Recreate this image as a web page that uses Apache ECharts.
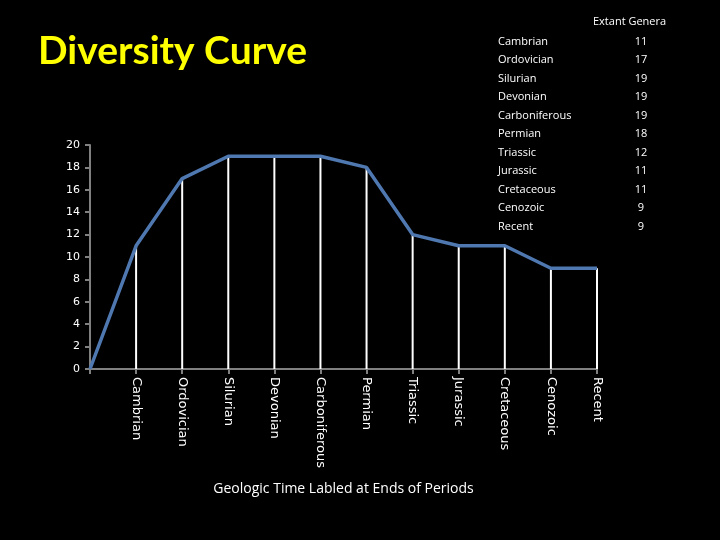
<!DOCTYPE html>
<html>
<head>
<meta charset="utf-8">
<style>
  html, body { margin: 0; padding: 0; background: #000; }
  #chart { width: 720px; height: 540px; }
</style>
</head>
<body>
<div id="chart"></div>
<script src="https://cdn.jsdelivr.net/npm/echarts@6/dist/echarts.min.js"></script>
<script>
    // periods, labelled at the end of each one (first slot is the origin)
    var periods = ['Cambrian', 'Ordovician', 'Silurian', 'Devonian', 'Carboniferous', 'Permian',
        'Triassic', 'Jurassic', 'Cretaceous', 'Cenozoic', 'Recent'];
    var genera = [11, 17, 19, 19, 19, 18, 12, 11, 11, 9, 9];
    var yTicks = [0, 2, 4, 6, 8, 10, 12, 14, 16, 18, 20];

    var categories = [''].concat(periods);
    var lineData = [0].concat(genera);

    // table on the right side
    var table = [{
        type: 'text', left: 593, top: 16,
        style: { text: 'Extant Genera', fill: '#fff', font: '11px "Open Sans", sans-serif' }
    }];
    periods.forEach(function (p, i) {
        var y = 36 + i * 18.5;
        table.push({
            type: 'text', left: 498, top: y,
            style: { text: p, fill: '#fff', font: '11px "Open Sans", sans-serif' }
        });
        table.push({
            type: 'text', x: 641, y: y,
            style: { text: String(genera[i]), fill: '#fff', font: '11px "Open Sans", sans-serif', align: 'center' }
        });
    });

    var myChart = echarts.init(document.getElementById('chart'));
    var option = {
        backgroundColor: '#000',
        animation: false,
        title: {
            text: 'Diversity Curve',
            left: 33,
            top: 27,
            textStyle: { color: '#ffff00', fontSize: 39, fontWeight: 'bold', fontFamily: 'Lato' }
        },
        graphic: table,
        grid: { left: 90, right: 123, top: 145, bottom: 171, containLabel: false },
        xAxis: {
            type: 'category',
            boundaryGap: false,
            data: categories,
            name: 'Geologic Time Labled at Ends of Periods',
            nameLocation: 'middle',
            nameGap: 113,
            nameTextStyle: { color: '#fff', fontSize: 14, fontFamily: '"Open Sans"' },
            axisLine: { lineStyle: { color: '#808080', width: 2 } },
            axisTick: { show: true, interval: 0, length: 5, lineStyle: { color: '#808080', width: 2 } },
            axisLabel: {
                interval: 0, rotate: -90, margin: 8,
                color: '#fff', fontSize: 13, fontFamily: 'DejaVu Sans'
            },
            splitLine: { show: false }
        },
        yAxis: {
            type: 'value',
            min: yTicks[0],
            max: yTicks[yTicks.length - 1],
            interval: 2,
            axisLine: { show: true, lineStyle: { color: '#808080', width: 2 } },
            axisTick: { show: true, length: 5, lineStyle: { color: '#808080', width: 2 } },
            axisLabel: { color: '#fff', fontSize: 11, margin: 10, fontFamily: 'DejaVu Sans' },
            splitLine: { show: false }
        },
        series: [
            {
                // white drop lines from each point down to the axis
                type: 'bar',
                data: lineData,
                barWidth: 2,
                itemStyle: { color: '#fff' },
                z: 1
            },
            {
                type: 'line',
                data: lineData,
                showSymbol: false,
                lineStyle: { color: '#4f78b0', width: 3.5 },
                z: 3
            }
        ]
    };
    myChart.setOption(option);
</script>
</body>
</html>
